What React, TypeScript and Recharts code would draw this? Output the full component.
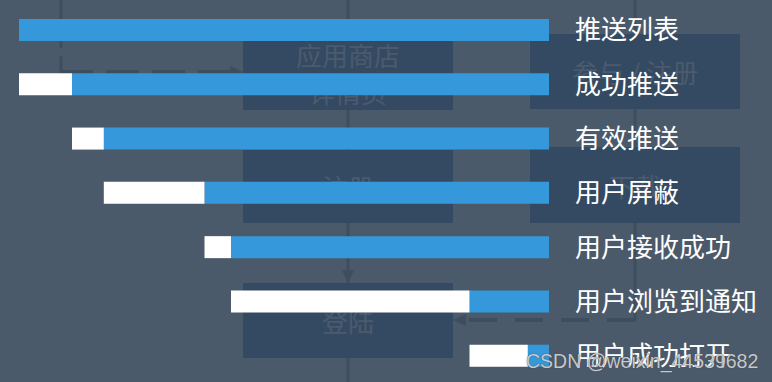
import * as React from "react"
import { Bar, BarChart, XAxis, YAxis } from "recharts"

const stages = [
  "推送列表",
  "成功推送",
  "有效推送",
  "用户屏蔽",
  "用户接收成功",
  "用户浏览到通知",
  "用户成功打开",
]
// what is left at each stage, out of 100
const remaining = [100, 90, 84, 65, 60, 15, 4]
// what was lost compared to the stage before
const lost = [0, 10, 6, 19, 5, 45, 11]

const data = stages.map((name, i) => ({
  name,
  remaining: remaining[i],
  lost: lost[i],
}))

const BG = "#4b5a6a"
const BOX = "#344a62"
const LINE = "#3f4e5f"
const BOX_TEXT = "#4b5b6d"
const CJK = '"Noto Sans CJK SC", "Noto Sans", sans-serif'

// the faint flow chart behind the bars
function Backdrop() {
  const boxes = [
    { x: 243, y: 35, w: 210, h: 75, lines: ["应用商店", "详情页"] },
    { x: 530, y: 34, w: 210, h: 75, lines: ["参与 / 注册"] },
    { x: 243, y: 150, w: 210, h: 73, lines: ["注册"] },
    { x: 530, y: 147, w: 210, h: 76, lines: ["下载"] },
    { x: 243, y: 283, w: 210, h: 75, lines: ["登陆"] },
  ]
  return (
    <svg width={772} height={382} style={{ position: "absolute", left: 0, top: 0 }}>
      <rect x={0} y={0} width={772} height={382} fill={BG} />
      {/* solid middle column line */}
      <line x1={348} y1={0} x2={348} y2={382} stroke={LINE} strokeWidth={3} />
      <polygon points="342,270 354,270 348,283" fill={LINE} />
      {/* right column line down to the dashed return arrow */}
      <line x1={635} y1={0} x2={635} y2={321} stroke={LINE} strokeWidth={3} />
      <line x1={635} y1={320} x2={462} y2={320} stroke={LINE} strokeWidth={4} strokeDasharray="28 18" />
      <polygon points="453,320 466,314 466,326" fill={LINE} />
      {/* left dashed arrow */}
      <line x1={61} y1={0} x2={61} y2={72} stroke={LINE} strokeWidth={3} strokeDasharray="20 8" />
      <line x1={60} y1={72} x2={234} y2={72} stroke={LINE} strokeWidth={4} strokeDasharray="33 13" />
      <polygon points="243,72 230,66 230,78" fill={LINE} />
      {boxes.map((b, i) => (
        <g key={i}>
          <rect x={b.x} y={b.y} width={b.w} height={b.h} fill={BOX} />
          {b.lines.map((t, j) => (
            <text
              key={j}
              x={b.x + b.w / 2}
              y={b.y + b.h / 2 + (j - (b.lines.length - 1) / 2) * 37}
              textAnchor="middle"
              dominantBaseline="central"
              fontFamily={CJK}
              fontSize={26}
              fill={BOX_TEXT}
            >
              {t}
            </text>
          ))}
        </g>
      ))}
    </svg>
  )
}

export default function App() {
  return (
    <div
      style={{
        position: "absolute",
        left: 0,
        top: 0,
        width: 772,
        height: 382,
        overflow: "hidden",
        background: BG,
      }}
    >
      <Backdrop />
      <div style={{ position: "absolute", left: 0, top: 0 }}>
        <BarChart
          width={772}
          height={384}
          data={data}
          layout="vertical"
          margin={{ top: 3, right: 0, bottom: 1, left: 19 }}
        >
          <XAxis type="number" domain={[0, 100]} reversed hide />
          <YAxis
            type="category"
            dataKey="name"
            orientation="right"
            width={223}
            axisLine={false}
            tickLine={false}
            tickSize={0}
            tickMargin={26}
            interval={0}
            tick={{ fill: "#ffffff", fontSize: 26, fontFamily: CJK }}
          />
          <Bar dataKey="remaining" stackId="a" fill="#3598db" barSize={22} isAnimationActive={false} />
          <Bar dataKey="lost" stackId="a" fill="#ffffff" barSize={22} isAnimationActive={false} />
        </BarChart>
      </div>
      <div
        style={{
          position: "absolute",
          left: 526,
          top: 349,
          fontFamily: '"Liberation Sans", Arial, sans-serif',
          fontSize: 19.5,
          lineHeight: "24px",
          color: "rgba(225,228,232,0.85)",
          textShadow: "0 0 1px #333",
          whiteSpace: "nowrap",
        }}
      >
        CSDN @weixin_44539682
      </div>
    </div>
  )
}
